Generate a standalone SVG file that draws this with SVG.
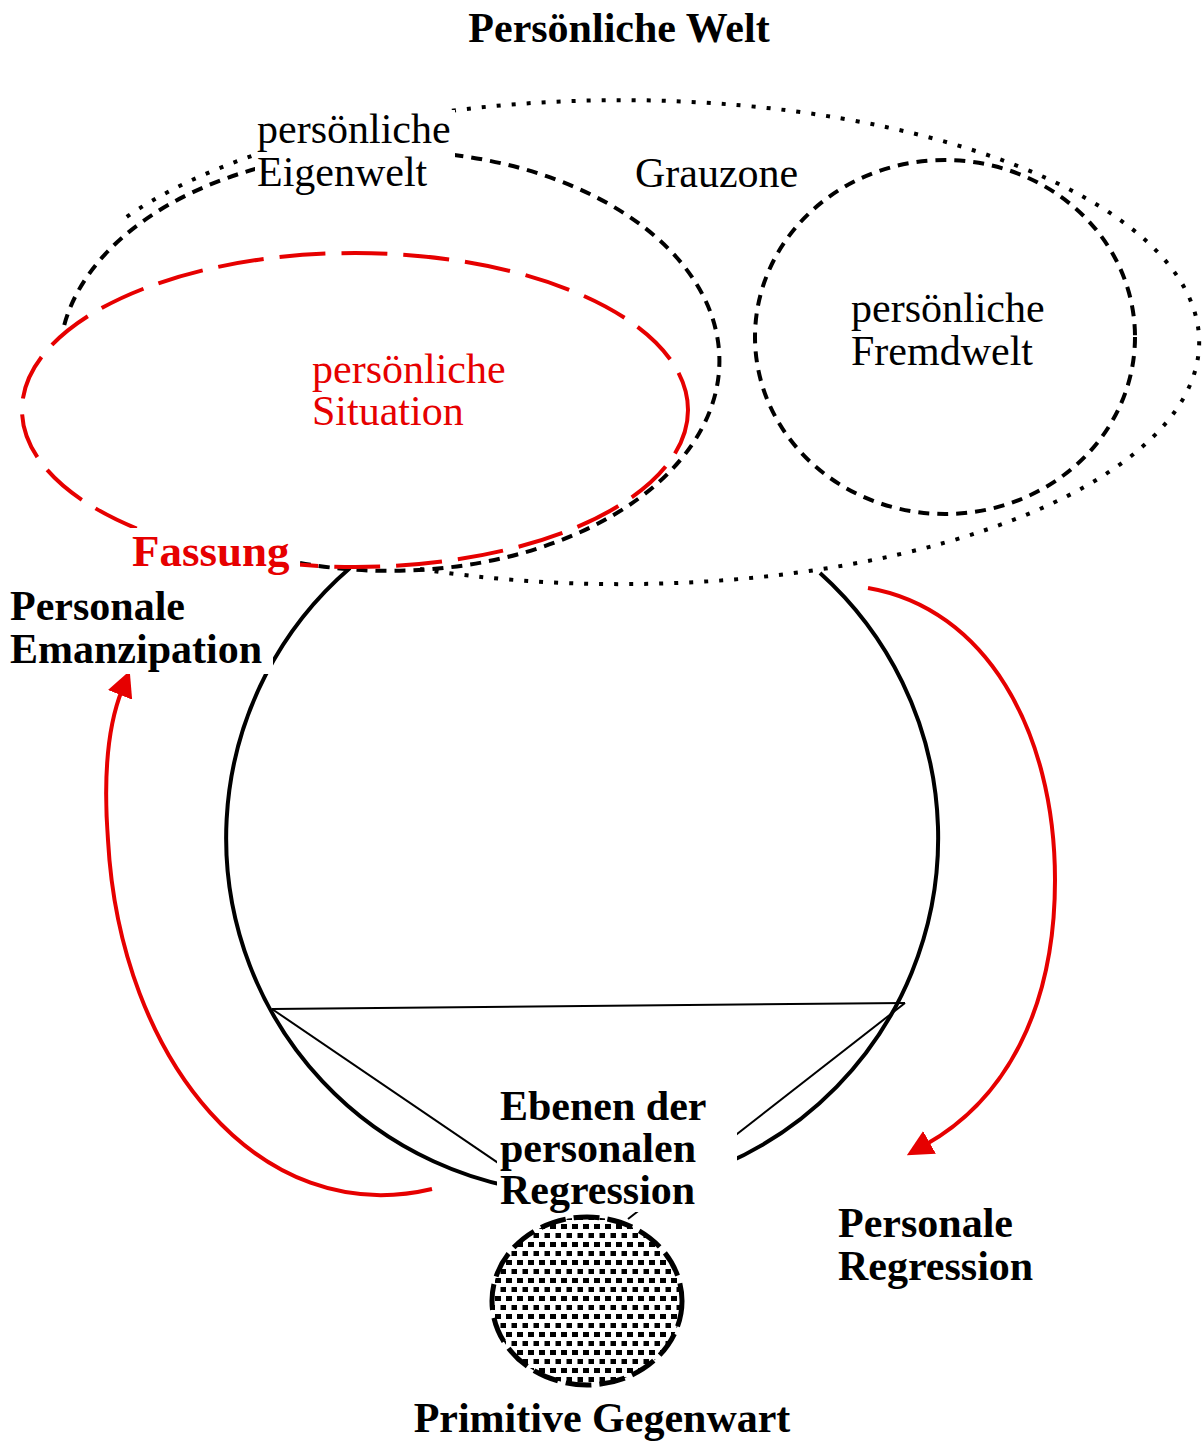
<svg xmlns="http://www.w3.org/2000/svg" width="1203" height="1443" viewBox="0 0 1203 1443">
<style>
.t{font-family:"Liberation Serif","Times New Roman",serif;font-size:42px;fill:#000}
.b{font-weight:bold}
.r{fill:#e60000}
.bg{fill:#fff}
.dot{fill:none;stroke:#000;stroke-width:4;stroke-dasharray:4 11}
.dash{fill:none;stroke:#000;stroke-width:4;stroke-dasharray:11 8}
.red{fill:none;stroke:#e60000;stroke-width:4}
.thin{stroke:#000;stroke-width:2;fill:none}
</style>
<defs>
<pattern id="dots" width="11" height="18" patternUnits="userSpaceOnUse">
<rect x="0" y="0" width="6" height="5" fill="#000"/>
<rect x="5.5" y="9" width="6" height="5" fill="#000"/>
</pattern>
<marker id="ah" viewBox="0 0 10 10" refX="2" refY="5" markerWidth="6.5" markerHeight="6.5" orient="auto" markerUnits="strokeWidth">
<path d="M0,0 L10,5 L0,10 Z" fill="#e60000"/>
</marker>
</defs>
<rect width="1203" height="1443" fill="#fff"/>

<g id="connectors">
<path id="lebenswelt-circle" d="M350,568 A356,356 0 1 0 820,573" fill="none" stroke="#000" stroke-width="4"/>
<path class="thin" d="M272,1009 L905,1003"/>
<path class="thin" d="M272,1009 L560,1205"/>
<path class="thin" d="M905,1003 L628,1219"/>
<path class="red" d="M432,1189 C260,1230 120,1060 108,840 C102,760 112,715 122,690" marker-end="url(#ah)"/>
<path class="red" d="M868,588 C985,608 1055,730 1055,880 C1055,1010 1005,1100 925,1145" marker-end="url(#ah)"/>
</g>

<g id="grauzone">
<path class="dot" d="M420,569 A578,242 0 1 0 125,218"/>
</g>
<g id="eigenwelt">
<path class="dash" d="M300,563 A330,210 0 1 0 63,330"/>
</g>
<g id="fremdwelt">
<ellipse class="dash" cx="945" cy="337" rx="190" ry="177"/>
<text class="t" x="851" y="322">persönliche</text>
<text class="t" x="851" y="365">Fremdwelt</text>
</g>
<g id="situation">
<ellipse cx="355" cy="410" rx="333" ry="157" fill="none" stroke="#e60000" stroke-width="4" stroke-dasharray="46 16"/>
<text class="t r" x="312" y="383">persönliche</text>
<text class="t r" x="312" y="425">Situation</text>
</g>

<g id="title">
<text class="t b" x="619" y="42" text-anchor="middle">Persönliche Welt</text>
</g>
<g id="eigenwelt-label">
<rect class="bg" x="255" y="110" width="200" height="85"/>
<text class="t" x="257" y="143">persönliche</text>
<text class="t" x="257" y="186">Eigenwelt</text>
</g>
<g id="grauzone-label">
<text class="t" x="635" y="187">Grauzone</text>
</g>
<g id="fassung">
<rect class="bg" x="130" y="528" width="170" height="44"/>
<text class="t b r" x="132" y="566" style="font-size:45px">Fassung</text>
</g>
<g id="emanzipation">
<rect class="bg" x="5" y="586" width="268" height="88"/>
<text class="t b" x="10" y="620">Personale</text>
<text class="t b" x="10" y="663">Emanzipation</text>
</g>
<g id="ebenen">
<rect class="bg" x="497" y="1086" width="240" height="126"/>
<text class="t b" x="500" y="1120">Ebenen der</text>
<text class="t b" x="500" y="1162">personalen</text>
<text class="t b" x="500" y="1204">Regression</text>
</g>
<g id="regression">
<text class="t b" x="838" y="1237">Personale</text>
<text class="t b" x="838" y="1280">Regression</text>
</g>
<g id="gegenwart">
<ellipse cx="587" cy="1301" rx="95" ry="84" fill="url(#dots)" stroke="#000" stroke-width="5" stroke-dasharray="26 8"/>
<text class="t b" x="602" y="1432" text-anchor="middle">Primitive Gegenwart</text>
</g>
</svg>
